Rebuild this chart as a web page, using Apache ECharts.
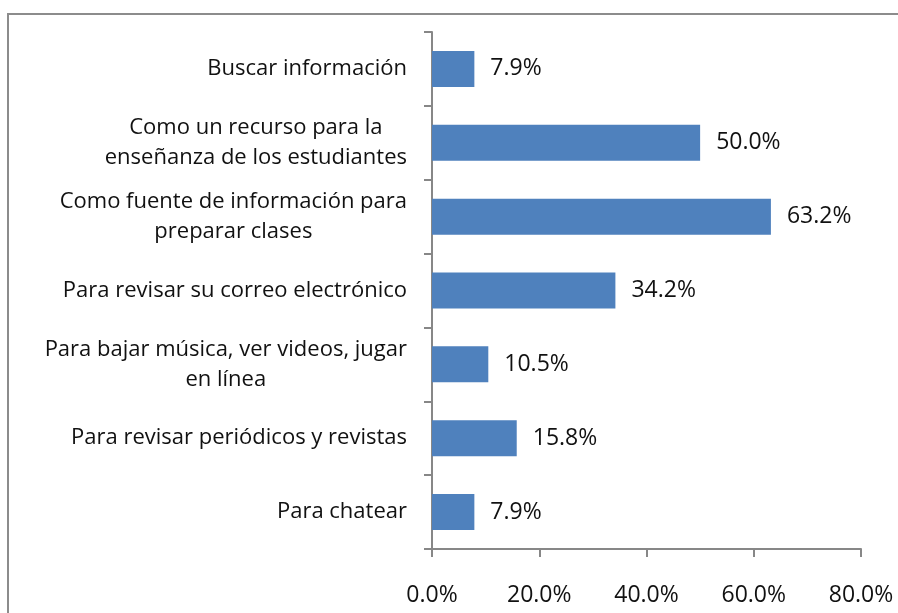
<!DOCTYPE html>
<html lang="es">
<head>
  <meta charset="UTF-8">
  <title>Uso de Internet</title>
  <style>
    html, body { margin: 0; padding: 0; background: #fff; }
    #chart { width: 898px; height: 613px; }
  </style>
  <script src="https://cdn.jsdelivr.net/npm/echarts@6/dist/echarts.min.js"></script>
</head>
<body>
  <div id="chart"></div>
<script>
  // categorias de arriba hacia abajo
  var categorias = [
    'Buscar información',
    'Como un recurso para la\nenseñanza de los estudiantes',
    'Como fuente de información para\npreparar clases',
    'Para revisar su correo electrónico',
    'Para bajar música, ver videos, jugar\nen línea',
    'Para revisar periódicos y revistas',
    'Para chatear'
  ];
  var porcentajes = [7.9, 50.0, 63.2, 34.2, 10.5, 15.8, 7.9];
  var ticksX = [0, 20, 40, 60, 80];

  var fuente = '"Open Sans", "Noto Sans", sans-serif';

  var myChart = echarts.init(document.getElementById('chart'));
  var option = {
    animation: false,
    graphic: [{
      type: 'rect',
      shape: { x: 8, y: 14, width: 900, height: 620 },
      style: { fill: 'none', stroke: '#8c8c8c', lineWidth: 2 }
    }],
    grid: { left: 432, right: 37, top: 32, bottom: 64 },
    xAxis: {
      type: 'value',
      min: ticksX[0],
      max: ticksX[ticksX.length - 1],
      interval: 20,
      splitLine: { show: false },
      axisLine: { show: true, lineStyle: { color: '#878787', width: 2 } },
      axisTick: { show: true, length: 8, lineStyle: { color: '#878787', width: 2 } },
      axisLabel: {
        margin: 35,
        color: '#111',
        fontSize: 23,
        fontFamily: fuente,
        formatter: function (v) { return v.toFixed(1) + '%'; }
      }
    },
    yAxis: {
      type: 'category',
      inverse: true,
      data: categorias,
      axisLine: { show: true, lineStyle: { color: '#878787', width: 2 } },
      axisTick: { show: true, length: 8, lineStyle: { color: '#878787', width: 2 } },
      axisLabel: {
        margin: 25,
        color: '#111',
        fontSize: 22,
        fontFamily: fuente,
        lineHeight: 30,
        formatter: function (v) {
          return v.split('\n').map(function (l) { return '{c|' + l + '}'; }).join('\n');
        },
        rich: {
          c: { align: 'center', fontSize: 22, fontFamily: fuente, color: '#111', lineHeight: 30 }
        }
      }
    },
    series: [{
      type: 'bar',
      data: porcentajes,
      barWidth: 36,
      itemStyle: { color: '#4f81bd' },
      label: {
        show: true,
        position: 'right',
        distance: 16,
        color: '#111',
        fontSize: 23,
        fontFamily: fuente,
        formatter: function (p) { return p.value.toFixed(1) + '%'; }
      }
    }]
  };
  myChart.setOption(option);
</script>
</body>
</html>
